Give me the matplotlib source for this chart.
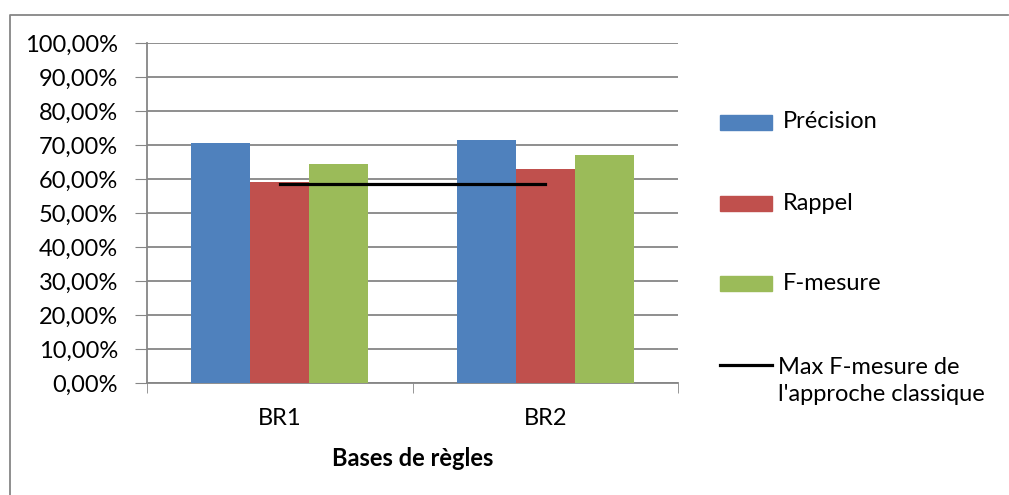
import matplotlib
matplotlib.use("Agg")
import matplotlib.pyplot as plt
from matplotlib.patches import Rectangle
from matplotlib.lines import Line2D
import numpy as np

plt.rcParams['font.family'] = ['Lato', 'DejaVu Sans']

# donnees
categories = ["BR1", "BR2"]
series_names = ["Précision", "Rappel", "F-mesure"]
precision = [0.705, 0.715]
rappel = [0.590, 0.629]
f_mesure = [0.643, 0.670]
max_classique = [0.586, 0.586]
line_label = "Max F-mesure de\nl'approche classique"
yticks = [0.0, 0.1, 0.2, 0.3, 0.4, 0.5, 0.6, 0.7, 0.8, 0.9, 1.0]
colors = ["#4F81BD", "#C0504D", "#9BBB59"]

W, H = 1009, 495
FS = 17
fig = plt.figure(figsize=(W / 100, H / 100), dpi=100)
ax = fig.add_axes([147 / W, 1 - 383 / H, (678 - 147) / W, (383 - 43) / H])

x = np.arange(len(categories))
bw = 0.222
for i, vals in enumerate([precision, rappel, f_mesure]):
    ax.bar(x + (i - 1) * bw, vals, width=bw, color=colors[i], zorder=3)

ax.plot(x, max_classique, color="black", lw=2.3, zorder=4)

ax.set_xlim(-0.5, 1.5)
ax.set_ylim(0, 1)
ax.set_yticks(yticks)
ax.set_yticklabels([f"{v * 100:.2f}%".replace(".", ",") for v in yticks])
ax.set_xticks(x)
ax.set_xticklabels(categories)
ax.set_xticks([-0.5, 0.5, 1.5], minor=True)
ax.tick_params(axis="x", which="major", length=0, pad=18, labelsize=FS)
ax.tick_params(axis="x", which="minor", length=7, color="#868686", direction="out")
ax.tick_params(axis="y", length=9, color="#868686", direction="out", pad=12, labelsize=FS)
ax.grid(axis="y", color="#868686", lw=1.3, zorder=0)
for s in ["top", "right"]:
    ax.spines[s].set_visible(False)
for s in ["left", "bottom"]:
    ax.spines[s].set_color("#868686")
    ax.spines[s].set_linewidth(1.3)
ax.set_xlabel("Bases de règles", fontsize=FS, fontweight="bold", labelpad=13)

# legende faite a la main
leg_y = [122, 203, 283]
for name, c, yy in zip(series_names, colors, leg_y):
    fig.add_artist(Rectangle((720 / W, 1 - (yy + 7.5) / H), 52 / W, 15 / H,
                             transform=fig.transFigure, color=c))
    fig.text(783 / W, 1 - yy / H, name, fontsize=FS, va="center")
fig.add_artist(Line2D([720 / W, 772 / W], [1 - 365 / H, 1 - 365 / H],
                      transform=fig.transFigure, color="black", lw=2.3))
fig.text(778 / W, 1 - 381 / H, line_label, fontsize=FS, va="center", linespacing=1.35)

# cadre du graphique
fig.add_artist(Line2D([10 / W, 10 / W, 1008 / W], [0, 1 - 15 / H, 1 - 15 / H],
                      transform=fig.transFigure, color="#868686", lw=1.3))

fig.savefig("out.png", dpi=100)
